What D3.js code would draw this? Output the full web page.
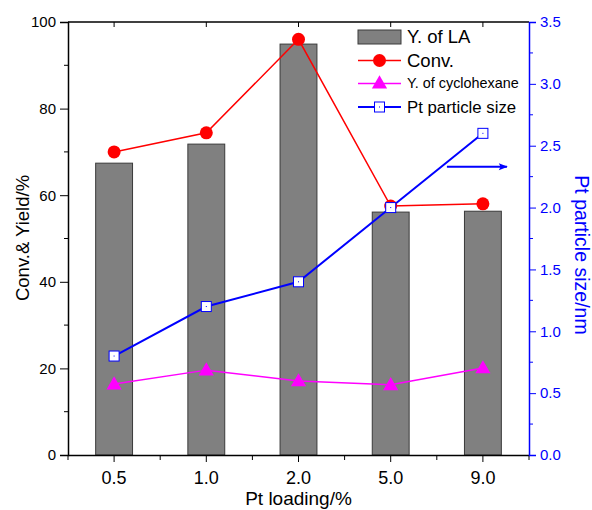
<!DOCTYPE html>
<html>
<head>
<meta charset="utf-8">
<script src="https://cdn.jsdelivr.net/npm/d3@7"></script>
<style>
  body { margin: 0; background: #fff; }
  text { font-family: "Liberation Sans", Arial, sans-serif; }
</style>
</head>
<body>
<div id="chart"></div>
<script>
const loadings = ["0.5", "1.0", "2.0", "5.0", "9.0"];
const yieldLA = [67.4, 71.8, 94.9, 56.1, 56.3];
const conversion = [70, 74.4, 96, 57.5, 58];
const yieldCyclohexane = [16.4, 19.6, 17.1, 16.2, 20.1];
const particleSize = [0.8, 1.2, 1.4, 2.0, 2.6];
const leftTicks = [0, 20, 40, 60, 80, 100];
const rightTicks = [0, 0.5, 1.0, 1.5, 2.0, 2.5, 3.0, 3.5];

const W = 592, H = 510;
const margin = { top: 22, right: 63, bottom: 55, left: 68 };
const width = W - margin.left - margin.right;
const height = H - margin.top - margin.bottom;

const svg = d3.select("#chart").append("svg")
  .attr("width", W).attr("height", H);
const g = svg.append("g")
  .attr("transform", `translate(${margin.left},${margin.top})`);

const x = d3.scaleBand().domain(loadings).range([0, width]).padding(0);
const y = d3.scaleLinear().domain([0, 100]).range([height, 0]);
const y2 = d3.scaleLinear().domain([0, 3.5]).range([height, 0]);
const cx = d => x(d) + x.bandwidth() / 2;

// bars
const barW = x.bandwidth() * 0.4;
g.selectAll(".bar").data(loadings).enter().append("rect")
  .attr("x", (d) => cx(d) - barW / 2)
  .attr("y", (d, i) => y(yieldLA[i]))
  .attr("width", barW)
  .attr("height", (d, i) => height - y(yieldLA[i]))
  .attr("fill", "#808080")
  .attr("stroke", "#3a3a3a")
  .attr("stroke-width", 1);

// frame: top line
g.append("line").attr("x1", 0).attr("x2", width).attr("y1", 0).attr("y2", 0)
  .attr("stroke", "#000").attr("stroke-width", 1.5);
// top ticks (inward)
g.selectAll(".ttick").data(loadings).enter().append("line")
  .attr("x1", cx).attr("x2", cx).attr("y1", 0).attr("y2", 5)
  .attr("stroke", "#000");

// left axis
const leftAxis = g.append("g")
  .call(d3.axisLeft(y).tickValues(leftTicks).tickSize(8).tickPadding(4).tickFormat(d3.format("d")));
leftAxis.select(".domain").attr("stroke-width", 1.5);
leftAxis.selectAll("text").style("font-size", "15px").attr("fill", "#000");
g.selectAll(".lminor").data([10, 30, 50, 70, 90]).enter().append("line")
  .attr("x1", -4).attr("x2", 0).attr("y1", y).attr("y2", y).attr("stroke", "#000");

// bottom axis
const bottomAxis = g.append("g").attr("transform", `translate(0,${height})`)
  .call(d3.axisBottom(x).tickSize(7).tickPadding(9).tickSizeOuter(0));
bottomAxis.select(".domain").attr("stroke-width", 1.5);
bottomAxis.selectAll("text").style("font-size", "18px").attr("fill", "#000");
g.selectAll(".bminor").data(d3.range(loadings.length + 1)).enter().append("line")
  .attr("x1", i => i * x.step()).attr("x2", i => i * x.step())
  .attr("y1", height).attr("y2", height + 5).attr("stroke", "#000");

// right axis
const rightAxis = g.append("g").attr("transform", `translate(${width},0)`)
  .call(d3.axisRight(y2).tickValues(rightTicks).tickSize(7).tickPadding(4).tickFormat(d3.format(".1f")));
rightAxis.select(".domain").attr("stroke", "#0000ff").attr("stroke-width", 1.5);
rightAxis.selectAll(".tick line").attr("stroke", "#0000ff");
rightAxis.selectAll("text").style("font-size", "15px").attr("fill", "#0000ff");
g.selectAll(".rminor").data([0.25, 0.75, 1.25, 1.75, 2.25, 2.75, 3.25]).enter().append("line")
  .attr("x1", width).attr("x2", width + 4).attr("y1", y2).attr("y2", y2).attr("stroke", "#0000ff");

// lines
const lineL = (vals, scale) => d3.line().x((d, i) => cx(loadings[i])).y(d => scale(d))(vals);

g.append("path").attr("d", lineL(conversion, y))
  .attr("fill", "none").attr("stroke", "#ff0000").attr("stroke-width", 1.5);
g.append("path").attr("d", lineL(yieldCyclohexane, y))
  .attr("fill", "none").attr("stroke", "#ff00ff").attr("stroke-width", 1.5);
g.append("path").attr("d", lineL(particleSize, y2))
  .attr("fill", "none").attr("stroke", "#0000ff").attr("stroke-width", 2);

// markers
g.selectAll(".conv").data(conversion).enter().append("circle")
  .attr("cx", (d, i) => cx(loadings[i])).attr("cy", d => y(d))
  .attr("r", 6.5).attr("fill", "#ff0000");

const tri = d3.symbol().type(d3.symbolTriangle).size(100);
g.selectAll(".cyc").data(yieldCyclohexane).enter().append("path")
  .attr("d", tri)
  .attr("transform", (d, i) => `translate(${cx(loadings[i])},${y(d) + 1})`)
  .attr("fill", "#ff00ff");

g.selectAll(".pt").data(particleSize).enter().append("rect")
  .attr("x", (d, i) => cx(loadings[i]) - 5).attr("y", d => y2(d) - 5)
  .attr("width", 10).attr("height", 10)
  .attr("fill", "#fff").attr("stroke", "#0000ff").attr("stroke-width", 1);
g.selectAll(".ptdot").data(particleSize).enter().append("rect")
  .attr("x", (d, i) => cx(loadings[i]) - 0.5).attr("y", d => y2(d) - 0.5)
  .attr("width", 1).attr("height", 1).attr("fill", "#0000ff");

// arrow pointing to right axis
svg.append("defs").append("marker")
  .attr("id", "arr").attr("viewBox", "0 0 10 10").attr("refX", 9).attr("refY", 5)
  .attr("markerWidth", 6).attr("markerHeight", 4.5).attr("orient", "auto")
  .attr("markerUnits", "strokeWidth")
  .append("path").attr("d", "M0,1 L10,5 L0,9 L2,5 Z").attr("fill", "#0000ff");
g.append("line")
  .attr("x1", cx("9.0") - 36).attr("x2", cx("9.0") + 24)
  .attr("y1", y2(2.33)).attr("y2", y2(2.33))
  .attr("stroke", "#0000ff").attr("stroke-width", 2).attr("marker-end", "url(#arr)");

// legend
const leg = svg.append("g").attr("transform", "translate(358,30)");
leg.append("rect").attr("x", 0).attr("y", 0).attr("width", 43).attr("height", 14)
  .attr("fill", "#808080").attr("stroke", "#3a3a3a");
leg.append("text").attr("x", 49).attr("y", 13).text("Y. of LA").style("font-size", "18.5px");

leg.append("line").attr("x1", 0).attr("x2", 43).attr("y1", 30.5).attr("y2", 30.5)
  .attr("stroke", "#ff0000").attr("stroke-width", 1.5);
leg.append("circle").attr("cx", 21.5).attr("cy", 30.5).attr("r", 6.5).attr("fill", "#ff0000");
leg.append("text").attr("x", 49).attr("y", 37).text("Conv.").style("font-size", "18.5px");

leg.append("line").attr("x1", 0).attr("x2", 43).attr("y1", 53.5).attr("y2", 53.5)
  .attr("stroke", "#ff00ff").attr("stroke-width", 1.5);
leg.append("path").attr("d", tri).attr("transform", "translate(21.5,54)").attr("fill", "#ff00ff");
leg.append("text").attr("x", 49).attr("y", 58).text("Y. of cyclohexane").style("font-size", "14.4px");

leg.append("line").attr("x1", 0).attr("x2", 43).attr("y1", 77).attr("y2", 77)
  .attr("stroke", "#0000ff").attr("stroke-width", 2);
leg.append("rect").attr("x", 16.5).attr("y", 72).attr("width", 10).attr("height", 10)
  .attr("fill", "#fff").attr("stroke", "#0000ff");
leg.append("rect").attr("x", 21).attr("y", 76.5).attr("width", 1).attr("height", 1).attr("fill", "#0000ff");
leg.append("text").attr("x", 49).attr("y", 82.5).text("Pt particle size").style("font-size", "16.8px");

// axis titles
svg.append("text")
  .attr("transform", `translate(29,238) rotate(-90)`)
  .attr("text-anchor", "middle").style("font-size", "18.5px").text("Conv.& Yield/%");
svg.append("text")
  .attr("transform", `translate(575,255) rotate(90)`)
  .attr("text-anchor", "middle").style("font-size", "19.5px").attr("fill", "#0000ff")
  .text("Pt particle size/nm");
svg.append("text")
  .attr("x", margin.left + width / 2).attr("y", 505)
  .attr("text-anchor", "middle").style("font-size", "19px").text("Pt loading/%");
</script>
</body>
</html>
